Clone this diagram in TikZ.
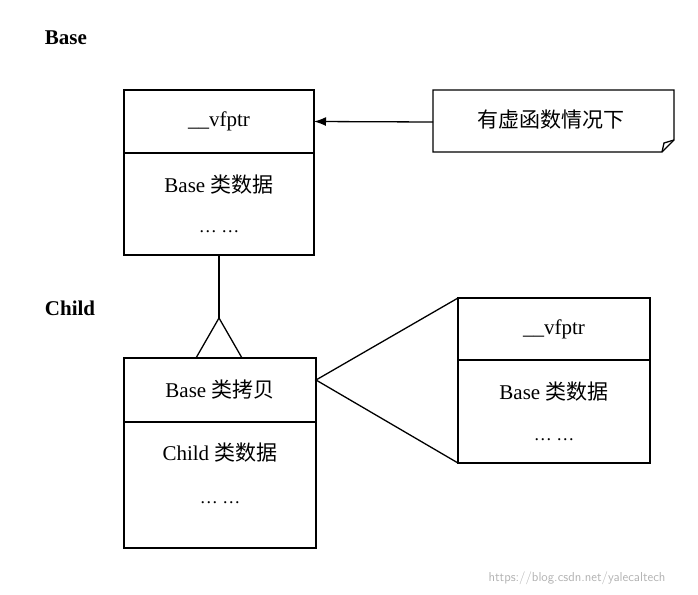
\documentclass[tikz,border=0pt]{standalone}
\usepackage{fontspec}
\setmainfont{Liberation Serif}
\newfontfamily\cjk{Noto Sans CJK SC}
\usetikzlibrary{positioning, arrows.meta}
\tikzstyle{arrow} = [-{Latex[length=12pt,width=9pt]}]
\begin{document}
\begin{tikzpicture}[x=1pt,y=-1pt, line width=1.3pt,
    cell/.style={draw, minimum width=190pt, inner sep=0pt, outer sep=0pt, font=\fontsize{21}{24}\selectfont},
    title/.style={font=\bfseries\fontsize{21}{24}\selectfont, anchor=west}
  ]
  \useasboundingbox (0,0) rectangle (698,594);

  \node[title] (baseT) at (41,38) {Base};
  \node[cell, minimum height=63pt, anchor=north west] (bv) at (124,90) {\_\_vfptr};
  \node[cell, minimum height=102pt, below=0pt of bv] (bd) {};
  \node (bdt) at (219,185) {\fontsize{21}{24}\selectfont Base {\cjk 类数据}};
  \node (bdd) at (219,232) {\fontsize{18}{20}\selectfont \dots\ \dots};

  % note
  \draw (433,90) -- (674,90) -- (674,140) -- (662,152) -- (433,152) -- cycle;
  \draw (662,152) -- (664,143) -- (674,140);
  \coordinate (note) at (433,122);
  \node at (551,120) {\cjk\fontsize{21}{24}\selectfont 有虚函数情况下};
  \draw[arrow] (note) -- (bv.east);

  \node[title] (childT) at (41,308) {Child};
  \node[cell, minimum height=64pt, minimum width=192pt, anchor=north west] (cc) at (124,358) {Base {\cjk 类拷贝}};
  \node[cell, minimum height=126pt, minimum width=192pt, below=0pt of cc] (cd) {};
  \node at (220,453) {\fontsize{21}{24}\selectfont Child {\cjk 类数据}};
  \node at (220,503) {\fontsize{18}{20}\selectfont \dots\ \dots};

  % inheritance
  \coordinate (tri) at (219,318);
  \draw (bd.south) -- (tri);
  \draw (tri) -- (196,358) (tri) -- (242,358);

  \node[cell, minimum height=62pt, minimum width=192pt, anchor=north west] (rv) at (458,298) {\_\_vfptr};
  \node[cell, minimum height=103pt, minimum width=192pt, below=0pt of rv] (rd) {};
  \node at (554,392) {\fontsize{21}{24}\selectfont Base {\cjk 类数据}};
  \node at (554,440) {\fontsize{18}{20}\selectfont \dots\ \dots};

  \coordinate (cp) at (316,380);
  \draw (rv.north west) -- (cp) -- (rd.south west);

  \node[gray!60, font=\sffamily\fontsize{13}{15}\selectfont] at (577,578) {https://blog.csdn.net/yalecaltech};
\end{tikzpicture}
\end{document}
